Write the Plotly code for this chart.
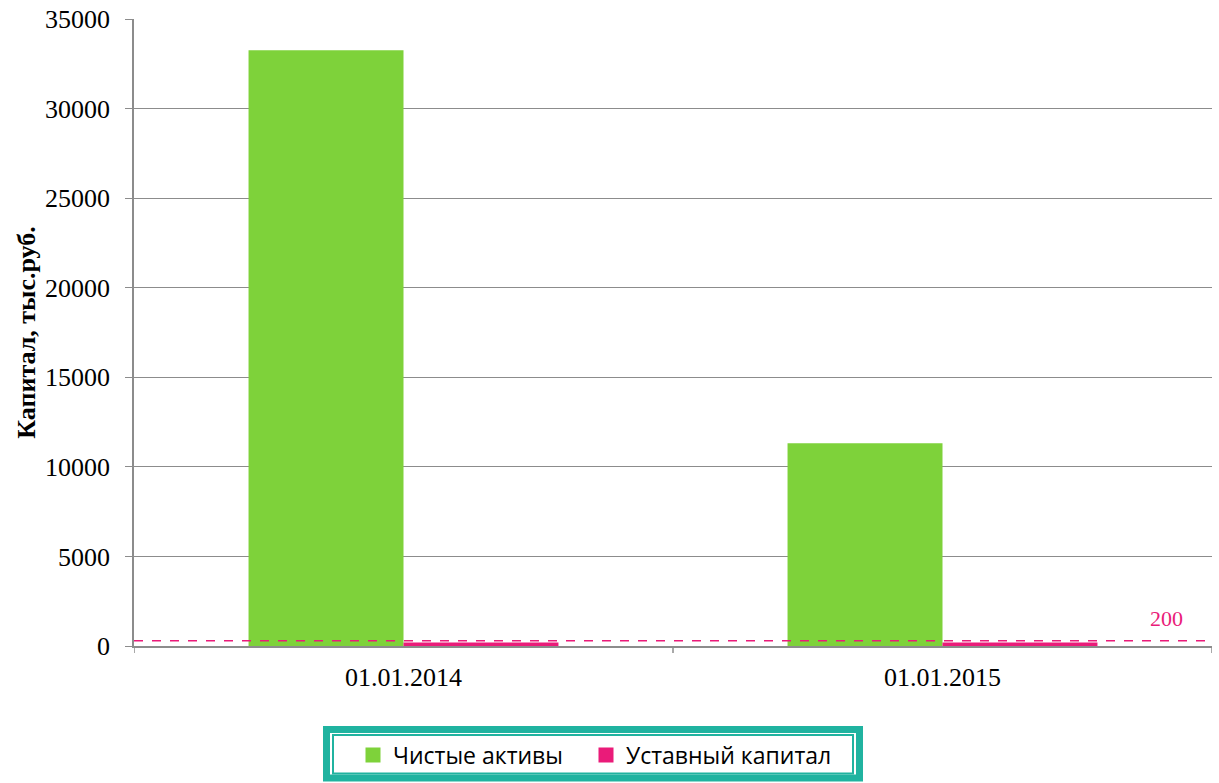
import plotly.graph_objects as go

categories = ["01.01.2014", "01.01.2015"]
net_assets = [33250, 11320]
charter_capital = [200, 200]
threshold_value = 300
threshold_label = "200"
y_ticks = [0, 5000, 10000, 15000, 20000, 25000, 30000, 35000]
y_tick_text = [str(v) for v in y_ticks]
series_names = ["Чистые активы", "Уставный капитал"]

W, H = 1219, 783
L, R, T, B = 134, 7, 19, 137

GREEN = "#7ED23A"
PINK = "#EA1B79"
GRID = "#8C8C8C"
TEAL = "#20B3A0"
colors = [GREEN, PINK]

fig = go.Figure()
fig.add_trace(go.Bar(x=categories, y=net_assets, name=series_names[0],
                     marker=dict(color=GREEN, line=dict(width=0)),
                     showlegend=False))
fig.add_trace(go.Bar(x=categories, y=charter_capital, name=series_names[1],
                     marker=dict(color=PINK, line=dict(width=0)),
                     showlegend=False))
# legend entries with 15px square swatches, one legend box per entry
for nm, c, lg in zip(series_names, colors, ["legend", "legend2"]):
    fig.add_trace(go.Scatter(x=[None], y=[None], mode="markers", name=nm,
                             legend=lg,
                             marker=dict(symbol="square", size=15, color=c,
                                         line=dict(width=0))))

pw, ph = W - L - R, H - T - B
def px(xp):
    return (xp - L) / pw
def py(yp):
    return (H - B - yp) / ph

fig.add_shape(type="line", xref="paper", yref="y", x0=0, x1=1,
              y0=threshold_value, y1=threshold_value,
              line=dict(color=PINK, width=1.5, dash="dash"))
fig.add_annotation(xref="paper", yref="y", x=px(1166), y=threshold_value,
                   xanchor="center", yshift=22, text=threshold_label,
                   showarrow=False,
                   font=dict(family="Liberation Serif", size=22, color=PINK))

# legend frame: thick outer + thin inner border
fig.add_shape(type="rect", xref="paper", yref="paper",
              x0=px(326.5), x1=px(859.5), y0=py(729.5), y1=py(778),
              line=dict(color=TEAL, width=7), layer="above")
fig.add_shape(type="rect", xref="paper", yref="paper",
              x0=px(333), x1=px(853), y0=py(735), y1=py(773.5),
              line=dict(color=TEAL, width=2), layer="above")

legend_common = dict(orientation="h", xref="container", yref="container",
                     xanchor="left", yanchor="middle", borderwidth=0,
                     bgcolor="rgba(0,0,0,0)",
                     font=dict(family="Open Sans", size=23, color="black"),
                     itemwidth=30, tracegroupgap=0)

fig.update_layout(
    width=W, height=H,
    margin=dict(l=L, r=R, t=T, b=B, autoexpand=False),
    paper_bgcolor="white", plot_bgcolor="white",
    barmode="group", bargap=0.425, bargroupgap=0,
    font=dict(family="Liberation Serif", size=26, color="black"),
    showlegend=True,
    legend=dict(x=353 / W, y=1 - 755 / H, **legend_common),
    legend2=dict(x=586 / W, y=1 - 755 / H, **legend_common),
    xaxis=dict(showline=True, linecolor=GRID, linewidth=1.5, ticks="",
               showgrid=False, tickfont=dict(size=26), automargin=False,
               ticklabelstandoff=7, range=[-0.5, 1.5]),
    yaxis=dict(range=[0, 35000], tickvals=y_ticks, ticktext=y_tick_text,
               showgrid=True, automargin=False,
               gridcolor=GRID, gridwidth=1, showline=True, linecolor=GRID,
               linewidth=1.5, ticks="outside", ticklen=7, tickcolor=GRID,
               tickfont=dict(size=26), ticklabelstandoff=10,
               zeroline=False,
               title=dict(text="<b>Капитал, тыс.руб.</b>", standoff=2,
                          font=dict(size=26))),
)

# x-axis tick marks between categories
for xv in [-0.5, 0.5, 1.5]:
    fig.add_shape(type="line", xref="x", yref="paper", x0=xv, x1=xv,
                  y0=0, y1=-7 / ph, line=dict(color=GRID, width=1.5))

fig.write_html("out.html", config={"displayModeBar": False},
               post_script="document.body.style.margin='0';")
